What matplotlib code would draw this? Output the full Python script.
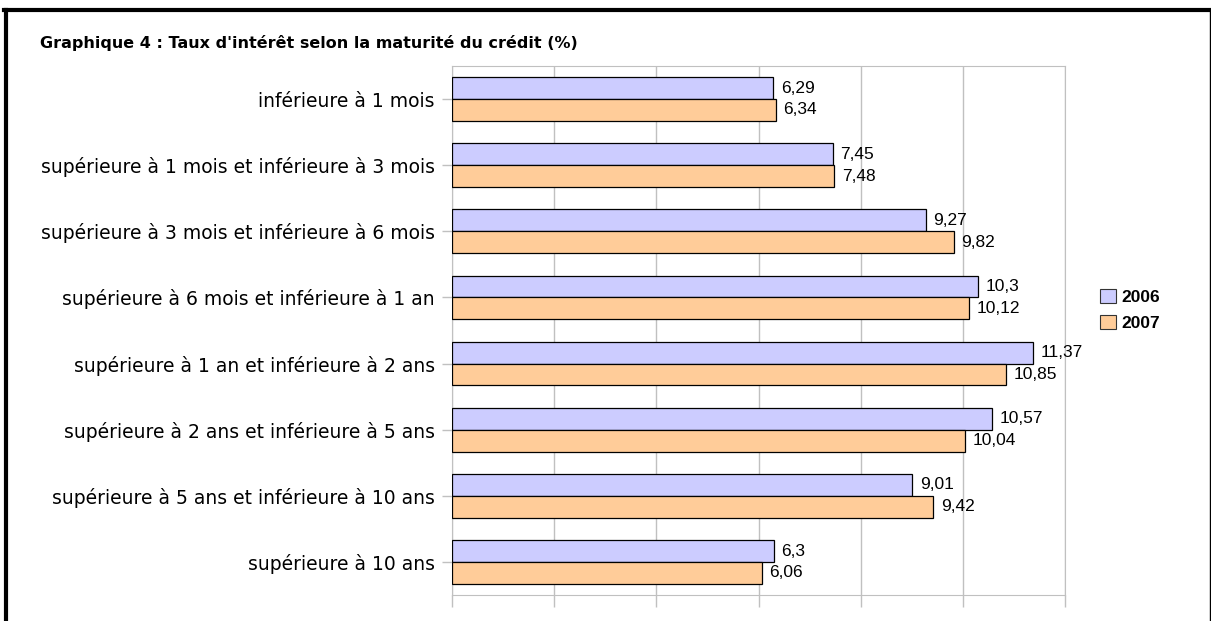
import numpy as np
import matplotlib.pyplot as plt
from matplotlib.patches import Patch

plt.rcParams['font.family'] = ['Liberation Sans', 'DejaVu Sans']

categories = [
    "inférieure à 1 mois",
    "supérieure à 1 mois et inférieure à 3 mois",
    "supérieure à 3 mois et inférieure à 6 mois",
    "supérieure à 6 mois et inférieure à 1 an",
    "supérieure à 1 an et inférieure à 2 ans",
    "supérieure à 2 ans et inférieure à 5 ans",
    "supérieure à 5 ans et inférieure à 10 ans",
    "supérieure à 10 ans",
]
taux_2006 = [6.29, 7.45, 9.27, 10.3, 11.37, 10.57, 9.01, 6.3]
taux_2007 = [6.34, 7.48, 9.82, 10.12, 10.85, 10.04, 9.42, 6.06]
series_names = ["2006", "2007"]
colors = ["#ccccff", "#ffcc99"]

W, H = 1211, 621
fig = plt.figure(figsize=(W / 100, H / 100), dpi=100)
ax = fig.add_axes([452 / W, 1 - 595 / H, 613 / W, 529 / H])

y = np.arange(len(categories))
h = 0.33
for vals, off, col in [(taux_2006, -h / 2, colors[0]), (taux_2007, h / 2, colors[1])]:
    ax.barh(y + off, vals, height=h, color=col, edgecolor="black", linewidth=0.9, zorder=3)
    for yi, v in zip(y + off, vals):
        lab = ("%g" % v).replace(".", ",")
        ax.text(v + 0.15, yi, lab, va="center", ha="left", fontsize=12.5, zorder=4)

ax.set_xlim(0, 12)
ax.set_ylim(len(categories) - 0.5, -0.5)
ax.set_xticks(np.arange(0, 13, 2))
ax.set_xticklabels([])
ax.set_yticks(y)
ax.set_yticklabels(categories, fontsize=13.5, family="DejaVu Sans")
ax.grid(axis="x", color="#c0c0c0", linewidth=1, zorder=0)
for s in ax.spines.values():
    s.set_color("#c0c0c0")
ax.tick_params(axis="x", length=8.6, color="#c0c0c0", width=1)
ax.tick_params(axis="y", length=7.5, color="#c0c0c0", width=1, pad=5)

fig.text(40 / W, 1 - 48 / H, "Graphique 4 : Taux d'intérêt selon la maturité du crédit (%)",
         fontsize=11.5, fontweight="bold", family="DejaVu Sans", va="baseline", ha="left")

handles = [Patch(facecolor=c, edgecolor="#333333", linewidth=0.8) for c in colors]
fig.legend(handles, series_names, loc="center left", bbox_to_anchor=(1100 / W, 1 - 310 / H),
           frameon=False, prop={"weight": "bold", "size": 12.5}, handlelength=0.9, handleheight=0.9,
           handletextpad=0.35, labelspacing=0.55, borderaxespad=0, borderpad=0)

# cadre extérieur
fig.add_artist(plt.Line2D([5.5 / W, 5.5 / W], [0, 1 - 9.5 / H], color="black", linewidth=3, transform=fig.transFigure))
fig.add_artist(plt.Line2D([4 / W, 1210 / W], [1 - 9.5 / H, 1 - 9.5 / H], color="black", linewidth=3, transform=fig.transFigure))
fig.add_artist(plt.Line2D([1209.5 / W, 1209.5 / W], [0, 1 - 9.5 / H], color="black", linewidth=1, transform=fig.transFigure))

fig.savefig("out.png", dpi=100, facecolor="white")
